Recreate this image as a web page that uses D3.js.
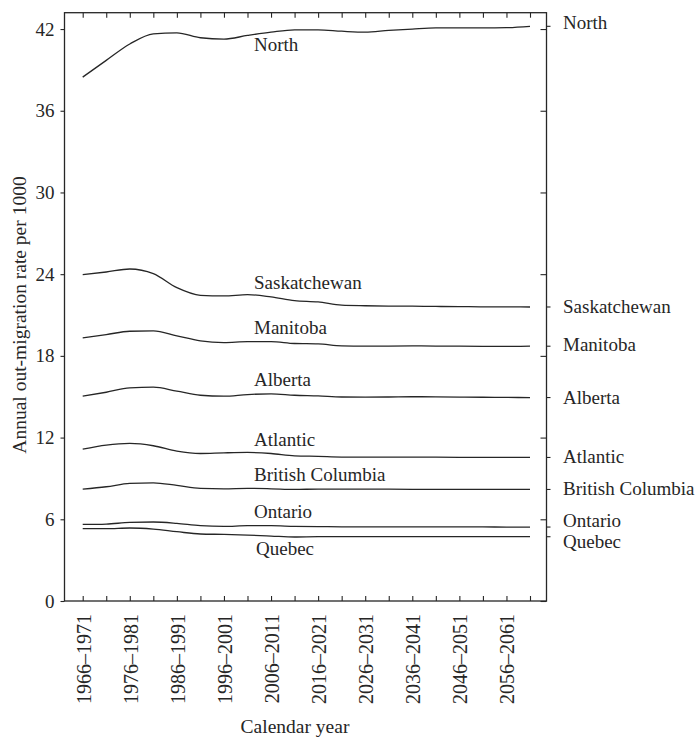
<!DOCTYPE html>
<html>
<head>
<meta charset="utf-8">
<script src="https://cdn.jsdelivr.net/npm/d3@7"></script>
<style>
  body { margin: 0; background: #fff; }
  text { font-family: "Liberation Serif", "Times New Roman", serif; fill: #262626; }
</style>
</head>
<body>
<svg id="chart" width="700" height="737"></svg>
<script>
// Five-year projection periods (one point per period)
const periods = [
  "1966–1971", "1971–1976", "1976–1981", "1981–1986", "1986–1991",
  "1991–1996", "1996–2001", "2001–2006", "2006–2011", "2011–2016",
  "2016–2021", "2021–2026", "2026–2031", "2031–2036", "2036–2041",
  "2041–2046", "2046–2051", "2051–2056", "2056–2061", "2061–2066"
];
const labelledPeriods = [
  "1966–1971", "1976–1981", "1986–1991", "1996–2001", "2006–2011",
  "2016–2021", "2026–2031", "2036–2041", "2046–2051", "2056–2061"
];
const yTicks = [0, 6, 12, 18, 24, 30, 36, 42];

const regions = ["North", "Saskatchewan", "Manitoba", "Alberta",
                 "Atlantic", "British Columbia", "Ontario", "Quebec"];

// Annual out-migration rate per 1000, by region
const north        = [38.47, 39.70, 40.90, 41.65, 41.72, 41.36, 41.26, 41.53, 41.77, 41.94,
                      41.94, 41.84, 41.77, 41.90, 42.00, 42.08, 42.08, 42.08, 42.10, 42.20];
const saskatchewan = [23.97, 24.16, 24.38, 24.04, 23.01, 22.45, 22.40, 22.50, 22.33, 22.06,
                      21.96, 21.72, 21.68, 21.66, 21.65, 21.63, 21.62, 21.60, 21.60, 21.59];
const manitoba     = [19.32, 19.56, 19.81, 19.83, 19.47, 19.10, 18.98, 19.05, 19.05, 18.91,
                      18.88, 18.74, 18.72, 18.72, 18.73, 18.72, 18.71, 18.70, 18.70, 18.71];
const alberta      = [15.04, 15.33, 15.65, 15.70, 15.41, 15.11, 15.04, 15.16, 15.21, 15.11,
                      15.06, 14.98, 14.97, 14.98, 15.00, 14.99, 14.97, 14.96, 14.95, 14.94];
const atlantic     = [11.15, 11.45, 11.57, 11.40, 11.00, 10.83, 10.88, 10.91, 10.83, 10.66,
                      10.62, 10.57, 10.56, 10.56, 10.57, 10.56, 10.55, 10.55, 10.54, 10.54];
const britishColumbia = [8.22, 8.39, 8.63, 8.68, 8.49, 8.27, 8.24, 8.27, 8.24, 8.19,
                         8.22, 8.22, 8.21, 8.21, 8.20, 8.20, 8.20, 8.20, 8.20, 8.19];
const ontario      = [5.62, 5.65, 5.77, 5.80, 5.70, 5.53, 5.48, 5.53, 5.53, 5.48,
                      5.46, 5.45, 5.45, 5.45, 5.45, 5.44, 5.44, 5.44, 5.43, 5.43];
const quebec       = [5.31, 5.31, 5.36, 5.28, 5.09, 4.92, 4.89, 4.84, 4.77, 4.70,
                      4.72, 4.72, 4.72, 4.72, 4.72, 4.72, 4.72, 4.72, 4.72, 4.72];

const seriesValues = [north, saskatchewan, manitoba, alberta,
                      atlantic, britishColumbia, ontario, quebec];

// Frame and scales
const frame = { left: 64.5, right: 546.5, top: 12.7, bottom: 601 };
const svg = d3.select("#chart");
const ink = "#262626";

const x = d3.scalePoint().domain(periods).range([82.7, 530]);
const y = d3.scaleLinear().domain([0, 43.2]).range([frame.bottom, frame.top]);

// Plot border
svg.append("rect")
  .attr("x", frame.left).attr("y", frame.top)
  .attr("width", frame.right - frame.left)
  .attr("height", frame.bottom - frame.top)
  .attr("fill", "none").attr("stroke", ink).attr("stroke-width", 1.3);

function styleAxis(g) {
  g.select(".domain").remove();
  g.selectAll(".tick line").attr("stroke", ink).attr("stroke-width", 1.1);
  g.selectAll(".tick text").attr("fill", ink);
}

// Left axis: short outward ticks with labels
svg.append("g")
  .attr("transform", `translate(${frame.left},0)`)
  .call(d3.axisLeft(y).tickValues(yTicks).tickSize(4).tickPadding(6).tickFormat(d3.format("d")))
  .call(styleAxis)
  .call(g => g.selectAll(".tick text")
    .style("font-family", '"Liberation Serif", serif')
    .style("font-size", "19px"));

// Right axis: inward ticks, no labels
svg.append("g")
  .attr("transform", `translate(${frame.right},0)`)
  .call(d3.axisRight(y).tickValues(yTicks).tickSize(-6).tickFormat(""))
  .call(styleAxis);

// Top and bottom axes: inward ticks for every period
svg.append("g")
  .attr("transform", `translate(0,${frame.top})`)
  .call(d3.axisTop(x).tickSize(-5).tickFormat(""))
  .call(styleAxis);

svg.append("g")
  .attr("transform", `translate(0,${frame.bottom})`)
  .call(d3.axisBottom(x).tickSize(-5).tickFormat(""))
  .call(styleAxis);

// Rotated period labels on every second tick
svg.append("g").selectAll("text")
  .data(labelledPeriods)
  .join("text")
  .attr("transform", d => `translate(${x(d) + 1},${frame.bottom + 13}) rotate(-90)`)
  .attr("text-anchor", "end")
  .attr("dy", "0.35em")
  .style("font-size", "20px")
  .text(d => d);

// Axis titles
svg.append("text")
  .attr("x", 295).attr("y", 733)
  .attr("text-anchor", "middle")
  .style("font-size", "19.5px")
  .text("Calendar year");

svg.append("text")
  .attr("transform", "translate(19,315) rotate(-90)")
  .attr("text-anchor", "middle")
  .attr("dy", "0.35em")
  .style("font-size", "19.5px")
  .text("Annual out-migration rate per 1000");

// Region lines
const line = d3.line()
  .x((d, i) => x(periods[i]))
  .y(d => y(d))
  .curve(d3.curveMonotoneX);

svg.append("g").selectAll("path")
  .data(seriesValues)
  .join("path")
  .attr("d", line)
  .attr("fill", "none")
  .attr("stroke", ink)
  .attr("stroke-width", 1.3)
  .attr("stroke-linejoin", "round");

// Inline labels: above each line, except North and Quebec which sit below
const inlineOffset = { "North": 19, "Quebec": 19 };
svg.append("g").selectAll("text")
  .data(regions)
  .join("text")
  .attr("x", d => (d === "Quebec" ? 256 : 254))
  .attr("y", (d, i) => y(seriesValues[i][8]) + (inlineOffset[d] !== undefined ? inlineOffset[d] : -8))
  .style("font-size", "19px")
  .text(d => d);

// Right-hand labels with small outward ticks at each line's final value
const endTick = svg.append("g");
endTick.selectAll("line")
  .data(seriesValues)
  .join("line")
  .attr("x1", frame.right).attr("x2", frame.right + 4)
  .attr("y1", v => y(v[v.length - 1]))
  .attr("y2", v => y(v[v.length - 1]))
  .attr("stroke", ink).attr("stroke-width", 1.1);

const rightShift = { "North": 2.6, "Manitoba": 4.7, "Ontario": 0.3, "Quebec": 11 };
endTick.selectAll("text")
  .data(regions)
  .join("text")
  .attr("x", 563)
  .attr("y", (d, i) => {
    const v = seriesValues[i];
    return y(v[v.length - 1]) + (rightShift[d] !== undefined ? rightShift[d] : 6);
  })
  .style("font-size", "19px")
  .text(d => d);
</script>
</body>
</html>
